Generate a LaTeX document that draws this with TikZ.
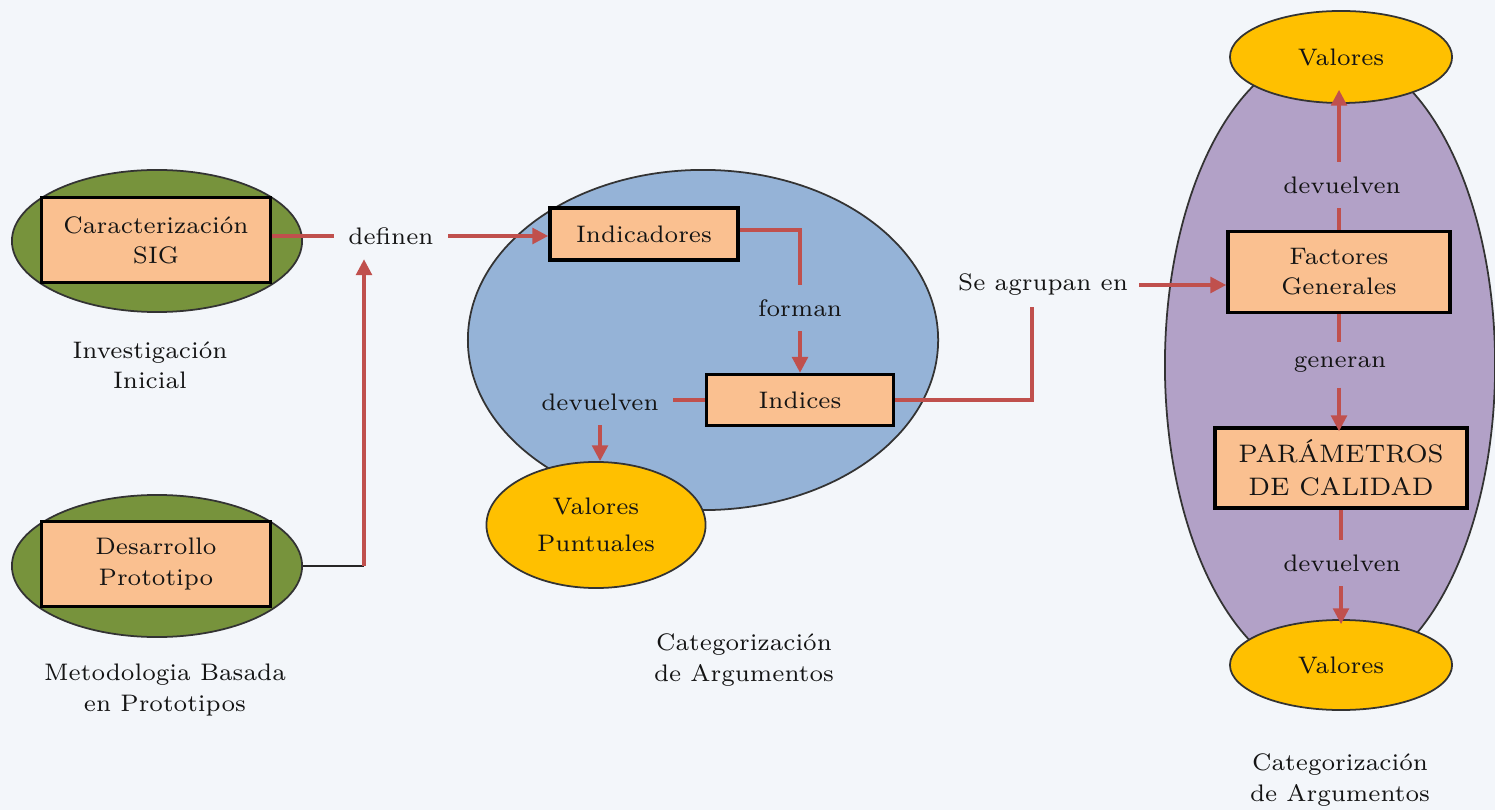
\documentclass[tikz,border=0pt]{standalone}
\usepackage{xcolor}
\usetikzlibrary{arrows.meta,positioning,shapes.geometric}

\definecolor{sage}{HTML}{77933C}
\definecolor{peach}{HTML}{FAC090}
\definecolor{skyblue}{HTML}{95B3D7}
\definecolor{gold}{HTML}{FFC000}
\definecolor{lilac}{HTML}{B2A1C7}
\definecolor{linkred}{HTML}{C0504D}
\definecolor{paper}{HTML}{F3F6FA}
\definecolor{ink}{HTML}{141414}

\tikzset{
  blob/.style={ellipse, draw=black!80, line width=0.5pt, inner sep=0pt},
  box/.style={rectangle, draw=black, line width=1pt, fill=peach,
    align=center, text=ink, inner sep=0pt},
  word/.style={align=center, text=ink, inner sep=2pt},
  link/.style={draw=linkred, line width=0.9pt},
  plainlink/.style={draw=black!85, line width=0.6pt}
}

\begin{document}
\begin{tikzpicture}[x=0.01cm, y=-0.01cm, >={Triangle[length=4.5pt,width=4.5pt]},
  font=\fontsize{6.8}{8.6}\selectfont]
  % page and background
  \useasboundingbox (0,0) rectangle (1495,810);
  \fill[paper] (0,0) rectangle (1495,810);

  % Left group: the two green ellipses with their boxes
  \node [blob, fill=sage, minimum width=2.90cm, minimum height=1.42cm] (invell) at (157,241) {};
  \node [box, minimum width=2.29cm, minimum height=0.85cm] (caract) at (156,240) {Caracterización\\SIG};
  \node [word] (invtxt) at (150,365) {Investigación\\Inicial};

  \node [blob, fill=sage, minimum width=2.90cm, minimum height=1.42cm] (desell) at (157,566) {};
  \node [box, minimum width=2.29cm, minimum height=0.85cm] (desarr) at (156,564) {Desarrollo\\Prototipo};
  \node [word] (mettxt) at (165,690) {Metodologia Basada\\en Prototipos};

  \node [word, inner sep=4pt] (definen) at (391,236) {definen};

  % Middle group: blue ellipse
  \node [blob, fill=skyblue, minimum width=4.70cm, minimum height=3.40cm] (catell) at (703,340) {};
  \node [blob, fill=gold, minimum width=2.19cm, minimum height=1.26cm, align=center, text=ink,
    font=\fontsize{6.8}{10.5}\selectfont] (valpun) at (596,525) {Valores\\Puntuales};
  \node [box, minimum width=1.88cm, minimum height=0.52cm] (indic) at (644,234) {Indicadores};
  \node [box, minimum width=1.87cm, minimum height=0.51cm] (indices) at (800,400) {Indices};
  \node [word, inner sep=4pt] (forman) at (800,308) {forman};
  \node [word, inner sep=4pt] (devA) at (600,402) {devuelven};
  \node [word] (cattxtA) at (744,660) {Categorización\\de Argumentos};

  \node [word, inner sep=3pt] (agrup) at (1043,285) {Se agrupan en};

  % Right group: purple ellipse
  \node [blob, fill=lilac, minimum width=3.30cm, minimum height=6.30cm] (calell) at (1330,365) {};
  \node [blob, fill=gold, minimum width=2.22cm, minimum height=0.92cm, text=ink] (valtop) at (1341,57) {Valores};
  \node [blob, fill=gold, minimum width=2.22cm, minimum height=0.90cm, text=ink] (valbot) at (1341,665) {Valores};
  \node [box, minimum width=2.22cm, minimum height=0.81cm] (factor) at (1339,272) {Factores\\Generales};
  \node [box, minimum width=2.52cm, minimum height=0.80cm, font=\fontsize{7.2}{9.5}\selectfont] (param) at (1341,468) {PARÁMETROS\\DE CALIDAD};
  \node [word, inner sep=4pt] (devB) at (1342,185) {devuelven};
  \node [word, inner sep=4pt] (generan) at (1340,365) {generan};
  \node [word, inner sep=4pt] (devC) at (1342,563) {devuelven};
  \node [word] (cattxtB) at (1340,780) {Categorización\\de Argumentos};

  % Connectors
  \coordinate (jointA) at (364,566);
  \draw [link] (caract.east |- definen) -- (definen.west);
  \draw [link, ->] (definen.east) -- (definen.east -| indic.west);
  \draw [plainlink] (desell.east) -- (jointA);
  \draw [link, ->] (jointA) -- (jointA |- definen.south);

  \draw [link] ([yshift=0.04cm]indic.east) -| (forman.north);
  \draw [link, ->] (forman.south) -- (indices.north);
  \draw [link] (indices.west) -- (indices.west -| devA.east);
  \draw [link, ->] (devA.south) -- (devA.south |- valpun.north);

  \draw [link] (indices.east) -| ([xshift=-0.11cm]agrup.south);
  \draw [link, ->] (agrup.east) -- (agrup.east -| factor.west);

  \draw [link] (factor.north) -- (factor.north |- devB.south);
  \draw [link, ->] (factor.north |- devB.north) -- ([yshift=0.14cm]factor.north |- valtop.south);
  \draw [link] (factor.south) -- (factor.south |- generan.north);
  \draw [link, ->] (factor.south |- generan.south) -- ([yshift=-0.05cm]factor.south |- param.north);
  \draw [link] (param.south) -- (param.south |- devC.north);
  \draw [link, ->] (param.south |- devC.south) -- ([yshift=-0.05cm]param.south |- valbot.north);
\end{tikzpicture}
\end{document}
